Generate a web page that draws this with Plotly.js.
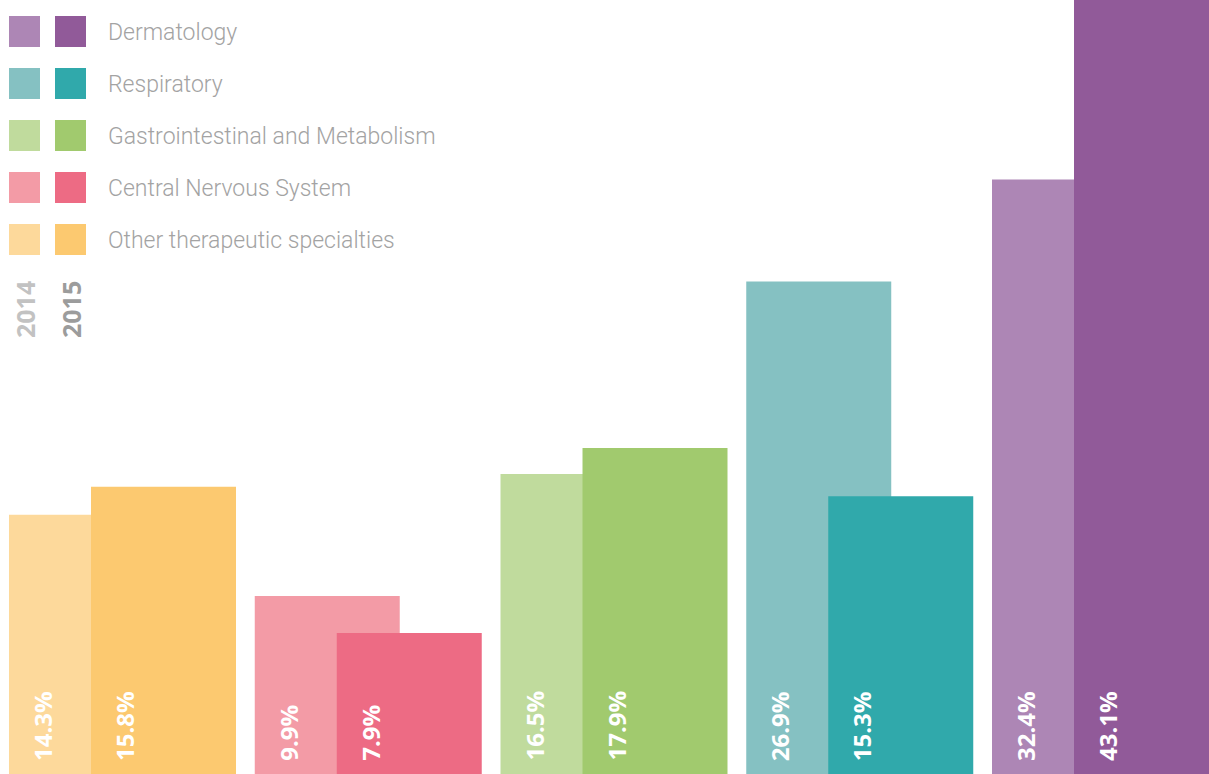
<!DOCTYPE html>
<html>
<head>
<meta charset="utf-8">
<script src="https://cdn.plot.ly/plotly-3.0.1.min.js"></script>
<style>html,body{margin:0;padding:0;background:#fff;}#chart{width:1209px;height:774px;}</style>
</head>
<body>
<div id="chart"></div>
<script>
// Data (left to right on the chart)
const categories = ['Other therapeutic specialties', 'Central Nervous System', 'Gastrointestinal and Metabolism', 'Respiratory', 'Dermatology'];
const values2014 = [14.3, 9.9, 16.5, 26.9, 32.4];
const values2015 = [15.8, 7.9, 17.9, 15.3, 43.1];
const years = ['2014', '2015'];
const colors2014 = ['#FDD99B', '#F39BA6', '#C0DB9D', '#85C1C2', '#AD86B5'];
const colors2015 = ['#FCC970', '#ED6B84', '#A1CA6E', '#30A9AB', '#915A99'];
// Legend order (top to bottom)
const legendOrder = ['Dermatology', 'Respiratory', 'Gastrointestinal and Metabolism', 'Central Nervous System', 'Other therapeutic specialties'];

const W = 1209, H = 774;
const barWidth = 0.59, offset2015 = 0.3337;

const traces = [
  {type: 'bar', name: years[0], x: categories, y: values2014, width: barWidth, offset: 0,
   marker: {color: colors2014, line: {width: 0}}, hoverinfo: 'skip'},
  {type: 'bar', name: years[1], x: categories, y: values2015, width: barWidth, offset: offset2015,
   marker: {color: colors2015, line: {width: 0}}, hoverinfo: 'skip'}
];

const shapes = [];
const annotations = [];
const px = v => v / W, py = v => 1 - v / H;

legendOrder.forEach((cat, i) => {
  const idx = categories.indexOf(cat);
  const top = 16 + i * 52, bot = top + 31;
  shapes.push({type: 'rect', xref: 'paper', yref: 'paper', x0: px(9), x1: px(40), y0: py(bot), y1: py(top),
    fillcolor: colors2014[idx], line: {width: 0}});
  shapes.push({type: 'rect', xref: 'paper', yref: 'paper', x0: px(55), x1: px(86), y0: py(bot), y1: py(top),
    fillcolor: colors2015[idx], line: {width: 0}});
  annotations.push({xref: 'paper', yref: 'paper', x: px(106), y: py((top + bot) / 2 + 1), xanchor: 'left', yanchor: 'middle',
    text: cat, showarrow: false, font: {family: 'Roboto, sans-serif', size: 23, color: '#A3A3A3', weight: 300}});
});

annotations.push({xref: 'paper', yref: 'paper', x: px(25), y: py(310), xanchor: 'center', yanchor: 'middle', textangle: -90, showarrow: false,
  text: years[0], font: {family: 'Open Sans, sans-serif', size: 25, color: '#C2C2C2', weight: 'bold'}});
annotations.push({xref: 'paper', yref: 'paper', x: px(71), y: py(310), xanchor: 'center', yanchor: 'middle', textangle: -90, showarrow: false,
  text: years[1], font: {family: 'Open Sans, sans-serif', size: 25, color: '#9C9C9C', weight: 'bold'}});

const labelFont = {family: 'Open Sans, sans-serif', size: 24, color: '#FFFFFF', weight: 'bold'};
categories.forEach((cat, i) => {
  annotations.push({xref: 'x', yref: 'paper', x: cat, y: 0, xanchor: 'center', yanchor: 'bottom', yshift: 11,
    xshift: 33, textangle: -90, showarrow: false, text: values2014[i].toFixed(1) + '%', font: labelFont});
  annotations.push({xref: 'x', yref: 'paper', x: cat, y: 0, xanchor: 'center', yanchor: 'bottom', yshift: 11,
    xshift: 115, textangle: -90, showarrow: false, text: values2015[i].toFixed(1) + '%', font: labelFont});
});

const layout = {
  width: W, height: H, autosize: false,
  margin: {l: 0, r: 0, t: 0, b: 0, pad: 0},
  paper_bgcolor: '#FFFFFF', plot_bgcolor: '#FFFFFF',
  barmode: 'overlay', showlegend: false,
  xaxis: {type: 'category', range: [-0.0366, 4.883], visible: false, fixedrange: true},
  yaxis: {range: [0.29, 42.1], visible: false, fixedrange: true},
  shapes: shapes, annotations: annotations,
  hovermode: false
};

Plotly.newPlot('chart', traces, layout, {displayModeBar: false, staticPlot: true});
</script>
</body>
</html>
